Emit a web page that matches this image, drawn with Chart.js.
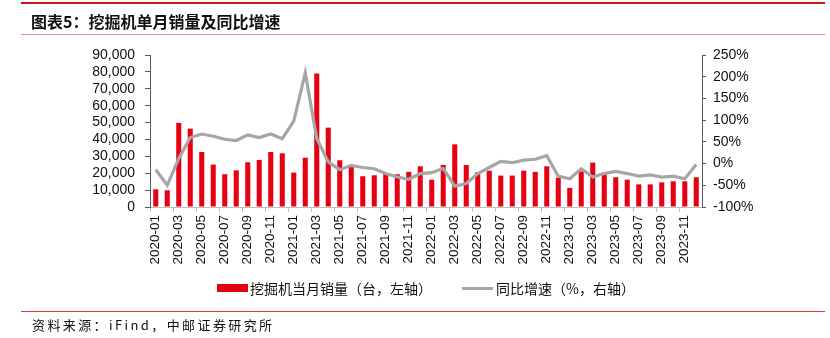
<!DOCTYPE html>
<html>
<head>
<meta charset="utf-8">
<script src="https://cdn.jsdelivr.net/npm/chart.js@4"></script>
<style>
    body { margin: 0; background: #fff; }
    #wrap { position: relative; width: 830px; height: 338px; overflow: hidden; }
    #chart { position: absolute; left: 0; top: 0; }
    .rule { position: absolute; left: 21px; width: 804px; }
    .txt { position: absolute; white-space: nowrap; font-family: "Noto Sans CJK SC", sans-serif; color: #111; }
</style>
</head>
<body>
<div id="wrap">
    <canvas id="chart" width="830" height="338"></canvas>
    <div class="rule" style="top:2px;height:2px;background:#c8161d;"></div>
    <div class="rule" style="top:34px;height:1px;background:#e28a8a;"></div>
    <div class="txt" style="left:31px;top:10px;font-size:16px;font-weight:700;line-height:22px;">图表5：挖掘机单月销量及同比增速</div>

    <div style="position:absolute;left:217px;top:284px;width:31px;height:8px;background:#e60012;"></div>
    <div class="txt" style="left:250px;top:278px;font-size:14px;line-height:20px;">挖掘机当月销量（台，左轴）</div>
    <div style="position:absolute;left:462px;top:287px;width:31px;height:3px;background:#a6a6a6;"></div>
    <div class="txt" style="left:496px;top:278px;font-size:14px;line-height:20px;">同比增速（%，右轴）</div>

    <div class="rule" style="top:311px;height:1px;background:#d9383a;"></div>
    <div class="txt" style="left:32px;top:316px;font-size:13px;line-height:18px;letter-spacing:2.4px;">资料来源：iFind，中邮证券研究所</div>
</div>
<script>
// 2020-01 .. 2023-12
const months = [];
for (let y = 2020; y <= 2023; y++) {
    for (let m = 1; m <= 12; m++) {
        months.push(y + '-' + String(m).padStart(2, '0'));
    }
}

// 挖掘机当月销量（台）
const sales = [
    10500, 9900, 49800, 46400, 32600, 25100, 19400, 21700, 26500, 27900, 32600, 31800,
    20400, 29200, 79000, 47000, 27700, 23700, 18200, 18800, 19800, 19400, 20800, 24100,
    16200, 24900, 37100, 24900, 20600, 21500, 18600, 18600, 21500, 20800, 24100, 17400,
    11300, 21100, 26300, 19200, 17600, 16200, 13400, 13400, 14600, 15200, 15200, 17600
];

// 同比增速（%）
const yoy = [
    -14, -50, 12, 60, 68, 63, 56, 53, 66, 60, 68, 57,
    98, 209, 58, 4, -14, -4, -9, -12, -23, -31, -36, -23,
    -21, -11, -52, -46, -23, -9, 5, 2, 8, 10, 18, -29,
    -35, -12, -31, -23, -18, -23, -29, -26, -31, -29, -35, -2
];

const leftTicks = { min: 0, max: 90000, step: 10000 };
const rightTicks = { min: -100, max: 250, step: 50 };

const axisFont = { family: '"Liberation Sans", Arial, sans-serif', size: 14 };

new Chart(document.getElementById('chart').getContext('2d'), {
    data: {
        labels: months,
        datasets: [
            {
                type: 'line',
                label: '同比增速（%，右轴）',
                data: yoy,
                yAxisID: 'y1',
                borderColor: '#a6a6a6',
                borderWidth: 3.2,
                pointRadius: 0,
                tension: 0,
                order: 0
            },
            {
                type: 'bar',
                label: '挖掘机当月销量（台，左轴）',
                data: sales,
                yAxisID: 'y',
                backgroundColor: '#e60012',
                categoryPercentage: 1,
                barPercentage: 0.44,
                order: 1
            }
        ]
    },
    options: {
        responsive: false,
        animation: false,
        layout: { padding: { top: 55, left: 0, right: 0, bottom: 0 } },
        plugins: { legend: { display: false }, tooltip: { enabled: false } },
        scales: {
            x: {
                offset: true,
                grid: {
                    offset: true,
                    drawOnChartArea: false,
                    tickLength: 5,
                    color: (c) => (c.index % 2 === 0 ? '#bfbfbf' : 'rgba(0,0,0,0)')
                },
                border: { color: '#bfbfbf', width: 1 },
                ticks: {
                    autoSkip: false,
                    minRotation: 90,
                    maxRotation: 90,
                    padding: 3,
                    color: '#111',
                    font: { family: axisFont.family, size: 13.5 },
                    callback: function(v, i) { return i % 2 === 0 ? months[i] : ''; }
                },
                afterFit: (s) => { s.height = 131; }
            },
            y: {
                position: 'left',
                min: leftTicks.min,
                max: leftTicks.max,
                grid: { drawOnChartArea: false, tickLength: 5, color: '#595959' },
                border: { color: '#595959', width: 1 },
                ticks: {
                    stepSize: leftTicks.step,
                    autoSkip: false,
                    padding: 10,
                    color: '#111',
                    font: axisFont,
                    callback: (v) => v.toLocaleString('en-US')
                },
                afterFit: (s) => { s.width = 150; }
            },
            y1: {
                position: 'right',
                min: rightTicks.min,
                max: rightTicks.max,
                grid: { drawOnChartArea: false, tickLength: 4, color: '#595959' },
                border: { color: '#595959', width: 1 },
                ticks: {
                    stepSize: rightTicks.step,
                    autoSkip: false,
                    padding: 7,
                    color: '#111',
                    font: axisFont,
                    callback: (v) => v + '%'
                },
                afterFit: (s) => { s.width = 128; }
            }
        }
    }
});
</script>
</body>
</html>
